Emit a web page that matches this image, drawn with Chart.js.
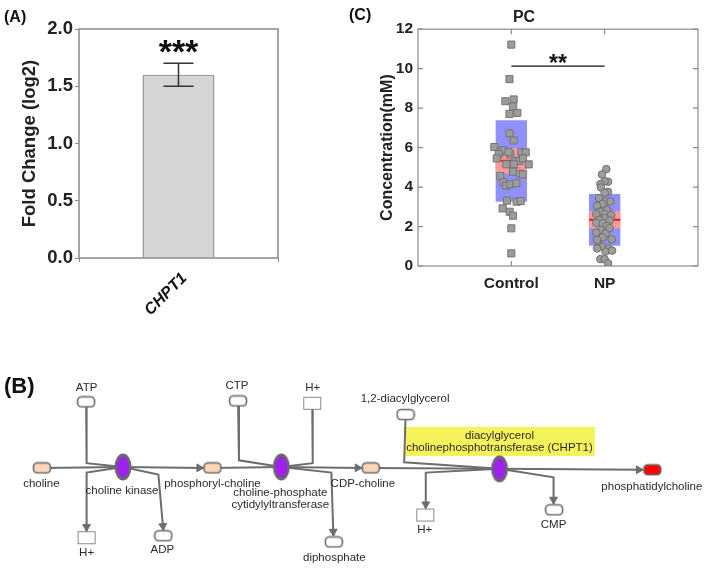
<!DOCTYPE html>
<html>
<head>
<meta charset="utf-8">
<script src="https://cdn.jsdelivr.net/npm/chart.js@4.4.1/dist/chart.umd.min.js"></script>
<style>
  body { margin: 0; background: #fff; }
  #wrap { position: relative; width: 709px; height: 572px; overflow: hidden; }
  canvas { position: absolute; }
  .tag { position: absolute; font: bold 16px 'Liberation Sans', Arial, sans-serif; color: #111; }
</style>
</head>
<body>
<div id="wrap">
  <canvas id="barA" width="300" height="330" style="left:0;top:0"></canvas>
  <canvas id="dotC" width="359" height="320" style="left:350px;top:0"></canvas>
  <canvas id="pathB" width="709" height="212" style="left:0;top:360px"></canvas>
  <div class="tag" style="left:4px;top:8px">(A)</div>
  <div class="tag" style="left:349px;top:6px">(C)</div>
  <div class="tag" style="left:4px;top:373px;font-size:22px">(B)</div>
</div>
<script>
// (A) CHPT1 expression
const geneLabels = ['CHPT1'];
const foldChange = [1.6];
const foldErrLow = [1.5];
const foldErrHigh = [1.7];
const foldStars = ['***'];

// (C) PC concentration, Control vs NP
const groupLabels = ['Control', 'NP'];
const groupPos = [1, 2];
const boxLow = [3.26, 1.03];
const boxHigh = [7.39, 3.65];
const ciLow = [4.69, 1.91];
const ciHigh = [5.97, 2.78];
const groupMean = [5.33, 2.34];
const ctrlX = [1.0, 0.98, 0.936, 1.025, 1.02, 0.98, 1.064, 0.98, 1.025, 0.818, 0.882, 0.918, 0.864, 0.99, 0.97, 1.107, 1.154, 1.046, 1.082, 0.843,
               1.125, 1.186, 0.946, 1.029, 1.018, 1.093, 1.125, 0.882, 0.914, 0.943, 0.99, 1.054, 0.954, 1.057, 1.1, 0.907, 0.982, 1.018, 1.0, 1.0];
const ctrlY = [11.22, 9.47, 8.35, 8.44, 8.08, 7.71, 7.76, 6.72, 6.36, 6.03, 5.79, 5.87, 5.67, 5.65, 5.77, 5.76, 5.76, 5.33, 5.32, 5.45,
               5.45, 5.15, 5.15, 5.15, 4.78, 4.68, 4.64, 4.56, 4.24, 4.07, 4.14, 4.19, 3.31, 3.26, 3.29, 2.92, 2.75, 2.55, 1.91, 0.64];
const npX = [2.018, 1.971, 2.036, 2.0, 1.954, 1.96, 2.036, 2.0, 1.94, 2.018, 2.064, 1.975, 1.918, 2.025, 1.954, 1.91, 2.0, 2.07, 2.0, 1.94,
             2.054, 1.91, 1.98, 2.025, 1.96, 1.91, 2.01, 1.98, 2.075, 1.94, 1.98, 1.918, 2.04, 2.01, 1.954, 2.0, 2.036, 2.08, 1.918, 2.054];
const npY = [4.91, 4.64, 4.27, 4.30, 4.15, 3.98, 3.76, 3.71, 3.44, 3.27, 3.27, 3.14, 3.05, 2.84, 2.75, 2.63, 2.63, 2.58, 2.43, 2.33,
             2.30, 2.19, 2.16, 2.03, 1.82, 1.69, 1.65, 1.45, 1.35, 1.06, 0.98, 0.89, 0.89, 0.73, 0.35, 0.34, 0.14, 0.78, 1.32, 1.92];
const sigPair = [1, 2];
const sigLevel = 10.13;
const sigText = '**';

// (B) pathway: nodes, edges, labels (page pixel coordinates)
const nodeX = [36.5, 81.5, 82, 160, 210, 236, 311.5, 333.5, 371, 406.5, 426.5, 557.5, 657.5, 119, 280, 502];
const nodeY = [468, 398, 542, 540, 468, 397, 399.5, 546.5, 468, 411.5, 518, 512.5, 470, 467, 467, 469];
const nodeKind = ['substrate', 'cofactor', 'ion', 'cofactor', 'substrate', 'cofactor', 'ion', 'cofactor',
                  'substrate', 'cofactor', 'ion', 'cofactor', 'product', 'enzyme', 'enzyme', 'enzyme'];
const edgePaths = [
  [[36.5, 468], [119, 467]],
  [[119, 467], [201, 468]],
  [[81.5, 398], [82, 463], [119, 467]],
  [[119, 467], [82, 473], [82, 535]],
  [[119, 467], [155, 475], [160, 534]],
  [[210, 468], [280, 467]],
  [[236, 397], [237, 460], [280, 467]],
  [[311.5, 399.5], [312, 463], [280, 467]],
  [[280, 467], [362, 468]],
  [[280, 467], [331, 473], [333, 540]],
  [[371, 468], [502, 469]],
  [[406.5, 411.5], [405, 462], [502, 469]],
  [[502, 469], [648, 470]],
  [[502, 469], [427, 473], [427, 511]],
  [[502, 469], [557, 478], [557, 506]]
];
const edgeArrow = [false, true, false, true, true, false, false, false, true, true, false, false, true, true, true, true];
const labelText = ['choline', 'ATP', 'H+', 'ADP', 'phosphoryl-choline', 'CTP', 'H+', 'diphosphate', 'CDP-choline',
                   '1,2-diacylglycerol', 'H+', 'CMP', 'phosphatidylcholine', 'choline kinase', 'choline-phosphate',
                   'cytidylyltransferase', 'diacylglycerol', 'cholinephosphotransferase (CHPT1)'];
const labelX = [36, 82, 82, 159, 210, 235, 312, 334, 363, 406, 426, 557, 657, 118, 279, 279, 502, 502];
const labelY = [485, 383, 558, 555, 485, 381, 383, 563, 485, 395, 534, 528, 488, 492, 494, 507, 434, 447];
const highlightIdx = [16, 17];

const FONT = "'Liberation Sans', Arial, sans-serif";
const GRAY = '#8a8a8a';

// ---------- (A) bar chart ----------
const errBarsA = {
  id: 'errBarsA',
  afterDatasetsDraw(chart) {
    const {ctx, chartArea: a, scales: {x, y}} = chart;
    ctx.save();
    ctx.strokeStyle = GRAY;
    ctx.lineWidth = 1.5;
    ctx.strokeRect(a.left, a.top, a.right - a.left, a.bottom - a.top);
    foldChange.forEach((v, i) => {
      const px = x.getPixelForValue(i);
      const lo = y.getPixelForValue(foldErrLow[i]);
      const hi = y.getPixelForValue(foldErrHigh[i]);
      ctx.strokeStyle = '#333';
      ctx.beginPath();
      ctx.moveTo(px, lo); ctx.lineTo(px, hi);
      ctx.moveTo(px - 15, lo); ctx.lineTo(px + 15, lo);
      ctx.moveTo(px - 15, hi); ctx.lineTo(px + 15, hi);
      ctx.stroke();
      ctx.fillStyle = '#111';
      ctx.font = 'bold 34px ' + FONT;
      ctx.textAlign = 'center';
      ctx.textBaseline = 'alphabetic';
      ctx.fillText(foldStars[i], px, hi);
    });
    ctx.restore();
  }
};

new Chart(document.getElementById('barA'), {
  type: 'bar',
  data: {
    labels: geneLabels,
    datasets: [{
      data: foldChange,
      backgroundColor: '#d5d5d5',
      borderColor: '#9a9a9a',
      borderWidth: 1.5,
      categoryPercentage: 1,
      barPercentage: 0.362
    }]
  },
  options: {
    responsive: false,
    animation: false,
    devicePixelRatio: 1,
    layout: { padding: { top: 29, right: 22, left: 0, bottom: 0 } },
    plugins: { legend: { display: false }, tooltip: { enabled: false } },
    scales: {
      x: {
        grid: { drawOnChartArea: false, tickLength: 4, color: GRAY },
        border: { display: false },
        ticks: { minRotation: 45, maxRotation: 45, padding: 7, labelOffset: 6, color: '#111',
                 font: { family: FONT, size: 16, weight: 'bold', style: 'italic' } },
        afterFit(s) { s.height = 72; }
      },
      y: {
        min: 0, max: 2,
        grid: { drawOnChartArea: false, tickLength: 4, color: GRAY },
        border: { display: false },
        ticks: { stepSize: 0.5, padding: 2, color: '#222', callback: v => v.toFixed(1),
                 font: { family: FONT, size: 18.5, weight: 'bold' } },
        title: { display: true, text: 'Fold Change (log2)', color: '#222', padding: { top: 19, bottom: 0 },
                 font: { family: FONT, size: 18.5, weight: 'bold' } },
        afterFit(s) { s.width = 79; }
      }
    }
  },
  plugins: [errBarsA]
});

// ---------- (C) dot + box chart ----------
const boxHalf = 0.168;
const frameC = {
  id: 'frameC',
  afterDatasetsDraw(chart) {
    const {ctx, chartArea: a, scales: {x, y}} = chart;
    ctx.save();
    ctx.strokeStyle = GRAY;
    ctx.lineWidth = 1.2;
    ctx.strokeRect(a.left, a.top, a.right - a.left, a.bottom - a.top);
    ctx.beginPath();
    y.ticks.forEach(t => {
      const py = y.getPixelForValue(t.value);
      ctx.moveTo(a.left, py); ctx.lineTo(a.left + 5, py);
      ctx.moveTo(a.right, py); ctx.lineTo(a.right - 5, py);
    });
    groupPos.forEach(g => {
      const px = x.getPixelForValue(g);
      ctx.moveTo(px, a.bottom); ctx.lineTo(px, a.bottom - 5);
      ctx.moveTo(px, a.top); ctx.lineTo(px, a.top + 5);
    });
    ctx.stroke();
    ctx.fillStyle = '#111';
    ctx.font = 'bold 23px ' + FONT;
    ctx.textAlign = 'center';
    ctx.fillText(sigText, x.getPixelForValue((sigPair[0] + sigPair[1]) / 2), y.getPixelForValue(sigLevel) + 5);
    ctx.restore();
  }
};

new Chart(document.getElementById('dotC'), {
  type: 'scatter',
  data: {
    datasets: [
      {
        label: 'Control', data: ctrlX.map((v, i) => ({x: v, y: ctrlY[i]})),
        pointStyle: 'rect', pointRadius: 5, backgroundColor: '#9c9c9c', borderColor: '#747474', borderWidth: 1, order: 0
      },
      {
        label: 'NP', data: npX.map((v, i) => ({x: v, y: npY[i]})),
        pointStyle: 'circle', pointRadius: 3.8, backgroundColor: '#9c9c9c', borderColor: '#707070', borderWidth: 1, order: 0
      },
      {
        type: 'line', data: sigPair.map(p => ({x: p, y: sigLevel})),
        borderColor: '#111', borderWidth: 1.3, pointRadius: 0, order: 0
      },
      ...groupPos.map((g, i) => ({
        type: 'line', data: [{x: g - boxHalf, y: groupMean[i]}, {x: g + boxHalf, y: groupMean[i]}],
        borderColor: '#f01818', borderWidth: 2, pointRadius: 0, order: 1
      })),
      {
        type: 'bar', data: groupPos.map((g, i) => ({x: g, y: [ciLow[i], ciHigh[i]]})),
        backgroundColor: '#ff9a9a', grouped: false, categoryPercentage: 1, barPercentage: boxHalf * 2, order: 2
      },
      {
        type: 'bar', data: groupPos.map((g, i) => ({x: g, y: [boxLow[i], boxHigh[i]]})),
        backgroundColor: '#9090ff', grouped: false, categoryPercentage: 1, barPercentage: boxHalf * 2, order: 3
      }
    ]
  },
  options: {
    responsive: false,
    animation: false,
    devicePixelRatio: 1,
    layout: { padding: { top: 0, right: 11, left: 0, bottom: 0 } },
    plugins: {
      legend: { display: false }, tooltip: { enabled: false },
      title: { display: true, text: 'PC', color: '#222', padding: { top: 8, bottom: 2 },
               font: { family: FONT, size: 16, weight: 'bold' } }
    },
    scales: {
      x: {
        type: 'linear', min: 0, max: 3, offset: false,
        grid: { display: false, drawTicks: false }, border: { display: false },
        ticks: { stepSize: 1, padding: 8, color: '#222', maxRotation: 0, autoSkip: false,
                 callback: v => { const k = groupPos.indexOf(v); return k < 0 ? '' : groupLabels[k]; },
                 font: { family: FONT, size: 15.5, weight: 'bold' } },
        afterFit(s) { s.height = 54; }
      },
      y: {
        min: 0, max: 12,
        grid: { display: false, drawTicks: false }, border: { display: false },
        ticks: { stepSize: 2, padding: 5, color: '#222', font: { family: FONT, size: 15.5, weight: 'bold' } },
        title: { display: true, text: 'Concentration(mM)', color: '#222', padding: { top: 28, bottom: 0 },
                 font: { family: FONT, size: 16, weight: 'bold' } },
        afterFit(s) { s.width = 68; }
      }
    }
  },
  plugins: [frameC]
});

// ---------- (B) pathway diagram ----------
function makeIcon(w, h, draw) {
  const c = document.createElement('canvas');
  c.width = w; c.height = h;
  draw(c.getContext('2d'), w, h);
  return c;
}
function pill(fill) {
  return makeIcon(20, 13, (g, w, h) => {
    g.beginPath();
    g.roundRect(1.5, 1.5, w - 3, h - 3, 4);
    g.fillStyle = fill; g.fill();
    g.lineWidth = 1.6; g.strokeStyle = '#6a6a6a'; g.stroke();
  });
}
const icons = {
  substrate: pill('#fdd6b8'),
  cofactor: pill('#ffffff'),
  product: pill('#ff0000'),
  ion: makeIcon(20, 15, (g, w, h) => {
    g.fillStyle = '#fff'; g.fillRect(1.5, 1.5, w - 3, h - 3);
    g.lineWidth = 1; g.strokeStyle = '#8a8a8a'; g.strokeRect(1.5, 1.5, w - 3, h - 3);
  }),
  enzyme: makeIcon(20, 30, (g, w, h) => {
    g.beginPath(); g.ellipse(w / 2, h / 2, 8.5, 13.5, 0, 0, Math.PI * 2);
    g.fillStyle = '#6a6a6a'; g.fill();
    g.beginPath(); g.ellipse(w / 2, h / 2, 6, 10.5, 0, 0, Math.PI * 2);
    g.fillStyle = '#a020f0'; g.fill();
  })
};

const arrowR = 4.5;
const arrowPts = [], arrowRot = [];
edgePaths.forEach((p, i) => {
  if (!edgeArrow[i]) return;
  const [x1, y1] = p[p.length - 2], [x2, y2] = p[p.length - 1];
  const len = Math.hypot(x2 - x1, y2 - y1);
  arrowPts.push({x: x2 - (x2 - x1) / len * arrowR, y: y2 - (y2 - y1) / len * arrowR});
  arrowRot.push(Math.atan2(y2 - y1, x2 - x1) * 180 / Math.PI + 90);
});

const labelFont = '11.5px ' + FONT;
const pathLabels = {
  id: 'pathLabels',
  beforeDatasetsDraw(chart) {
    const {ctx, scales: {x, y}} = chart;
    ctx.save();
    ctx.font = labelFont;
    let l = Infinity, r = -Infinity, t = Infinity, b = -Infinity;
    highlightIdx.forEach(i => {
      const w = ctx.measureText(labelText[i]).width;
      const px = x.getPixelForValue(labelX[i]), py = y.getPixelForValue(labelY[i]);
      l = Math.min(l, px - w / 2); r = Math.max(r, px + w / 2);
      t = Math.min(t, py); b = Math.max(b, py);
    });
    ctx.fillStyle = '#f5f35c';
    ctx.fillRect(l - 2, t - 9, r - l + 4, b - t + 17);
    ctx.restore();
  },
  afterDatasetsDraw(chart) {
    const {ctx, scales: {x, y}} = chart;
    ctx.save();
    ctx.font = labelFont;
    ctx.fillStyle = '#2a2a2a';
    ctx.textAlign = 'center';
    ctx.textBaseline = 'middle';
    labelText.forEach((s, i) => ctx.fillText(s, x.getPixelForValue(labelX[i]), y.getPixelForValue(labelY[i])));
    ctx.restore();
  }
};

new Chart(document.getElementById('pathB'), {
  type: 'scatter',
  data: {
    datasets: [
      {
        data: nodeX.map((v, i) => ({x: v, y: nodeY[i]})),
        pointStyle: nodeKind.map(k => icons[k]), pointRadius: 5, order: 0
      },
      {
        data: arrowPts, pointStyle: 'triangle', pointRadius: arrowR, rotation: arrowRot,
        backgroundColor: '#6d6d6d', borderColor: '#6d6d6d', borderWidth: 1, order: 1
      },
      ...edgePaths.map(p => ({
        type: 'line', data: p.map(([a, b]) => ({x: a, y: b})),
        borderColor: '#6d6d6d', borderWidth: 2, pointRadius: 0, order: 2
      }))
    ]
  },
  options: {
    responsive: false,
    animation: false,
    devicePixelRatio: 1,
    layout: { padding: 0 },
    plugins: { legend: { display: false }, tooltip: { enabled: false } },
    scales: {
      x: { type: 'linear', min: 0, max: 709, display: false },
      y: { type: 'linear', min: 360, max: 572, reverse: true, display: false }
    }
  },
  plugins: [pathLabels]
});
</script>
</body>
</html>
